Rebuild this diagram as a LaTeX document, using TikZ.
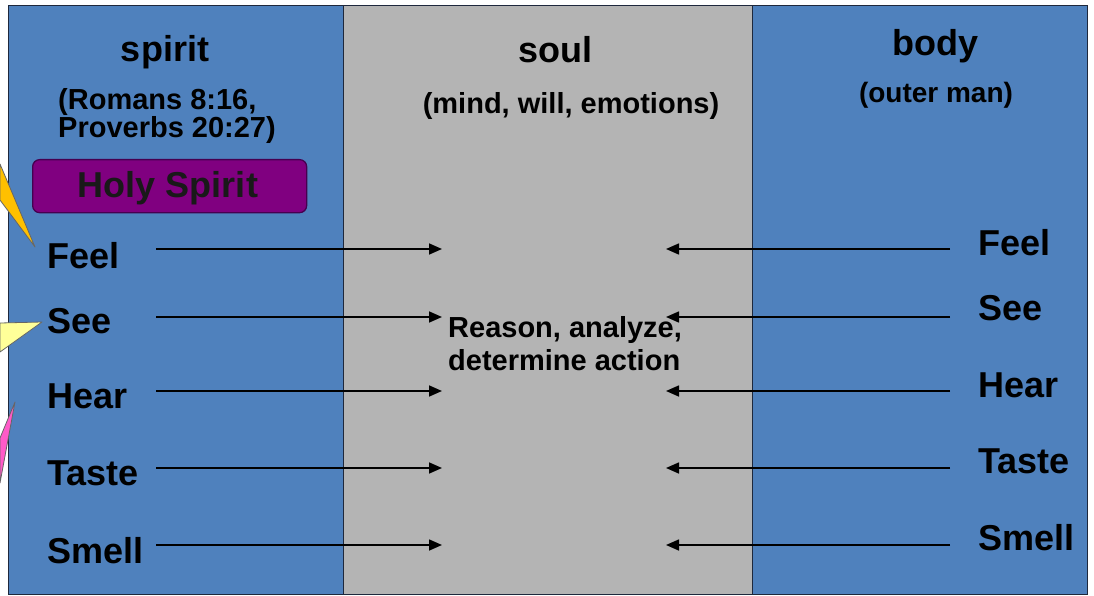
\documentclass[tikz,border=0pt]{standalone}
\usepackage{fontspec}
\setmainfont{Liberation Sans}
\usetikzlibrary{arrows.meta}
\definecolor{panelblue}{RGB}{79,129,189}
\definecolor{soulgray}{RGB}{180,180,180}
\definecolor{hspurple}{RGB}{128,0,128}
\definecolor{hsborder}{RGB}{70,0,80}
\definecolor{calgold}{RGB}{255,192,0}
\definecolor{calyellow}{RGB}{255,255,153}
\definecolor{calpink}{RGB}{255,90,200}
\definecolor{frameline}{RGB}{30,40,60}
\begin{document}
\begin{tikzpicture}[x=1pt,y=-1pt,
  panel/.style={draw=frameline, line width=1.2pt, inner sep=0pt, anchor=north west, minimum height=589pt},
  hdr/.style={font=\fontsize{36}{40}\selectfont\bfseries, inner sep=0pt, anchor=base},
  sub/.style={font=\fontsize{29}{32}\selectfont\bfseries, inner sep=0pt},
  sense/.style={font=\fontsize{36}{40}\selectfont\bfseries, inner sep=0pt, anchor=base west},
  conn/.style={line width=1.6pt, draw=black, -{Triangle[length=13pt,width=11pt]}},
  callout/.style={draw=black!60, line width=0.8pt, line join=round}
]
\useasboundingbox (0,0) rectangle (1094,596);
\fill[white] (0,0) rectangle (1094,596);

% panels
\node[panel, fill=panelblue, minimum width=335pt] (spiritpanel) at (8,5) {};
\node[panel, fill=soulgray, minimum width=409pt] (soulpanel) at (343,5) {};
\node[panel, fill=panelblue, minimum width=335pt] (bodypanel) at (752,5) {};

% callouts from outside (left edge)
\path[callout, fill=calgold] (0,164) -- (35,247) -- (0,200) -- cycle;
\path[callout, fill=calyellow] (0,323) -- (42,322) -- (0,352) -- cycle;
\path[callout, fill=calpink] (0,438) -- (15,402) -- (0,483) -- cycle;

% headers
\node[hdr] (spirit) at (165,62) {spirit};
\node[sub, anchor=base west] (rom) at (58,110) {(Romans 8:16,};
\node[sub, anchor=base west] (prov) at (58,138) {Proverbs 20:27)};
\node[hdr] (soul) at (555,63) {soul};
\node[sub, anchor=base] (mwe) at (571,114) {(mind, will, emotions)};
\node[hdr] (body) at (935,56) {body};
\node[sub, anchor=base, font=\fontsize{28}{32}\selectfont\bfseries] (outer) at (936,103) {(outer man)};

% Holy Spirit box
\node[draw=hsborder, line width=1.3pt, fill=hspurple, rounded corners=7pt,
      minimum width=274pt, minimum height=53pt, inner sep=0pt, anchor=north west] (hsbox) at (32,159) {};
\node[font=\fontsize{36}{40}\selectfont\bfseries, inner sep=0pt, anchor=base, text=black!90] (hs) at (168,197) {Holy Spirit};

% center text
\node[sub, anchor=base west] (reason1) at (448,337) {Reason, analyze,};
\node[sub, anchor=base west] (reason2) at (448,370) {determine action};

% left senses
\node[sense] (lfeel) at (47,268) {Feel};
\node[sense] (lsee) at (47,333) {See};
\node[sense] (lhear) at (47,408) {Hear};
\node[sense] (ltaste) at (47,485) {Taste};
\node[sense] (lsmell) at (47,563) {Smell};

% right senses
\node[sense] (rfeel) at (978,255) {Feel};
\node[sense] (rsee) at (978,320) {See};
\node[sense] (rhear) at (978,397) {Hear};
\node[sense] (rtaste) at (978,473) {Taste};
\node[sense] (rsmell) at (978,550) {Smell};

% arrow end coordinates
\foreach \i/\y in {1/249,2/317,3/391,4/468,5/545}{
  \coordinate (ls\i) at (156,\y);
  \coordinate (lt\i) at (442,\y);
  \coordinate (rs\i) at (950,\y);
  \coordinate (rt\i) at (666,\y);
}
\foreach \i in {1,...,5}{
  \draw[conn] (ls\i) -- (lt\i);
  \draw[conn] (rs\i) -- (rt\i);
}
\end{tikzpicture}
\end{document}
